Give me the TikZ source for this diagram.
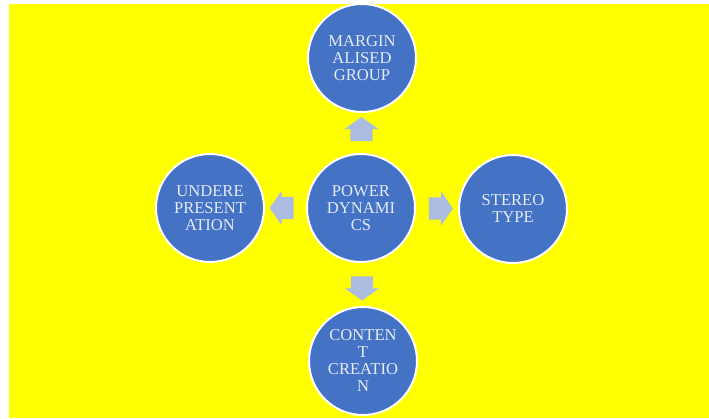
\documentclass[tikz,border=0pt]{standalone}
\usepackage{fontspec}
\setmainfont{Liberation Serif}
\usetikzlibrary{positioning, shapes.arrows, calc}

\definecolor{bgyellow}{RGB}{255,255,0}
\definecolor{circblue}{RGB}{68,114,196}
\definecolor{arrowgrey}{RGB}{172,187,224}
\definecolor{textpale}{RGB}{228,234,246}

\begin{document}
\begin{tikzpicture}[x=1pt, y=1pt,
		bubble/.style={draw=white, line width=2pt, circle, fill=circblue, minimum size=108pt, inner sep=0pt, text=textpale, align=center, font=\fontsize{16.6pt}{17pt}\selectfont},
		blockarrow/.style={single arrow, fill=arrowgrey, draw=none, inner xsep=0pt, inner ysep=11pt, minimum height=24pt, single arrow head extend=6pt, single arrow tip angle=110}]
		% background
		\fill[white] (0, 0) rectangle (709, 418);
		\fill[bgyellow] (9, 0) rectangle (709, 414);
		\node[bubble] (power) at (361, 210) {POWER\\DYNAMI\\CS};
		\node[bubble] (margin) at (362, 360) {MARGIN\\ALISED\\GROUP};
		\node[bubble] (stereo) at (513, 209) {STEREO\\TYPE};
		\node[bubble] (content) at (363, 57) {CONTEN\\T\\CREATIO\\N};
		\node[bubble] (under) at (210, 210) {UNDERE\\PRESENT\\ATION};
		% arrows between the circles
		\node[blockarrow, rotate=90] (uparrow) at ($(power)!0.5!(margin)$) {};
		\node[blockarrow, rotate=0] (rightarrow) at ($(power)!0.5!(stereo)$) {};
		\node[blockarrow, rotate=270] (downarrow) at ($(power)!0.5!(content)$) {};
		\node[blockarrow, rotate=180] (leftarrow) at ($(power)!0.5!(under)$) {};
	\end{tikzpicture}
\end{document}
